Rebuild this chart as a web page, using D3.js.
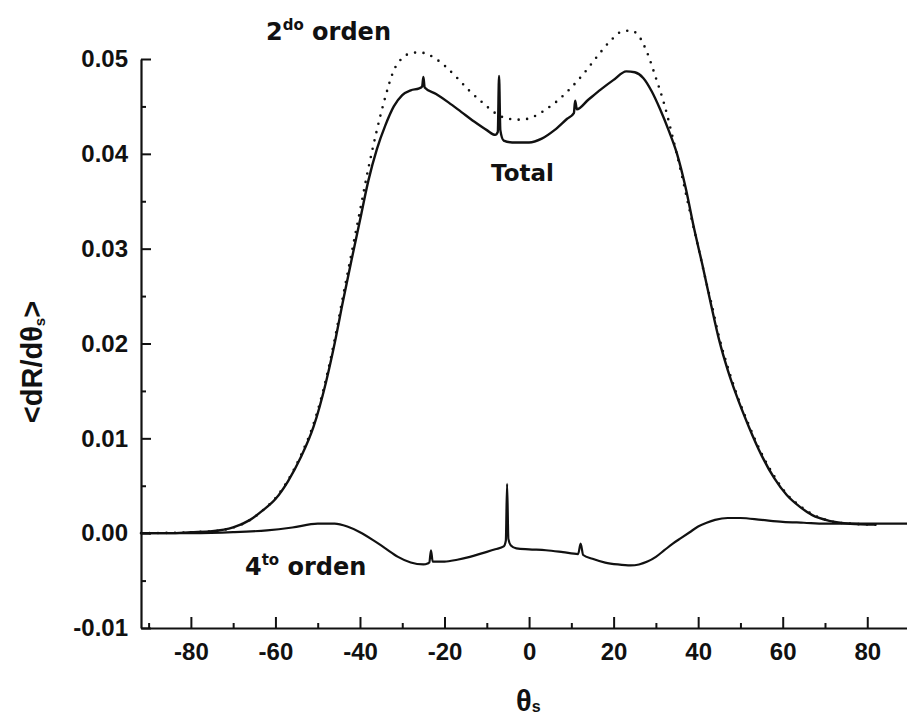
<!DOCTYPE html>
<html>
<head>
<meta charset="utf-8">
<script src="https://cdn.jsdelivr.net/npm/d3@7"></script>
<style>
  html, body { margin: 0; padding: 0; background: #fff; }
  svg { display: block; }
  .tick text { font-family: "Liberation Sans", Arial, sans-serif; font-weight: bold; font-size: 24px; fill: #111; }
  .lbl { font-family: "DejaVu Sans", sans-serif; font-weight: bold; fill: #111; }
</style>
</head>
<body>
<svg id="chart" width="907" height="724"></svg>
<script>
// Scattering angle grid points (degrees) and curves
const totalTheta = [-91.8,-85,-80,-75,-70,-66,-63,-60,-57,-54,-51,-48,-46,-44,-42,-40,-38,-36,-34,-32,-30,-28,-26,-25.3,-25,-24.7,-22,-19,-16,-13,-10,-8,-7.4,-7.1,-6.8,-6.0,-4,0,3,6,9,10.6,10.9,11.3,14,17,20,23,25,27,29,31,33,35,37,39,41,43,45,47,49,52,55,58,61,64,67,71,76,82];
const totalValues = [0,0,0.0001,0.0002,0.0006,0.0014,0.0024,0.0036,0.0055,0.0080,0.0112,0.0160,0.0200,0.0245,0.0288,0.0330,0.0372,0.0405,0.0430,0.0450,0.0462,0.0467,0.0469,0.0471,0.0481,0.0470,0.0463,0.0454,0.0444,0.0434,0.0425,0.0420,0.0423,0.0482,0.0425,0.0414,0.0412,0.0412,0.0416,0.0425,0.0437,0.0443,0.0456,0.0447,0.0457,0.0468,0.0478,0.0487,0.0486,0.0480,0.0466,0.0447,0.0425,0.0400,0.0365,0.0322,0.0283,0.0242,0.0203,0.0172,0.0146,0.0112,0.0082,0.0058,0.0040,0.0028,0.0019,0.0013,0.0010,0.0009];

const secondTheta = [-91.8,-80,-75,-70,-66,-63,-60,-57,-54,-51,-48,-46,-44,-42,-40,-38,-36,-34,-32,-30,-28,-26,-24,-22,-20,-17,-14,-11,-8,-5,-2,1,4,7,10,13,16,19,22,24,26,28,30,32,34,36,38,40,42,43,45,47,49,52,55,58,61,64,67,71,76,82];
const secondValues = [0,0.0001,0.0002,0.0006,0.0014,0.0024,0.0037,0.0056,0.0082,0.0115,0.0163,0.0204,0.0250,0.0295,0.0340,0.0385,0.0425,0.0460,0.0488,0.0501,0.0506,0.0507,0.0505,0.0500,0.0493,0.0480,0.0466,0.0454,0.0443,0.0437,0.0436,0.0439,0.0447,0.0457,0.0470,0.0485,0.0502,0.0518,0.0529,0.0530,0.0524,0.0506,0.0480,0.0452,0.0417,0.0380,0.0340,0.0302,0.0263,0.0245,0.0206,0.0175,0.0148,0.0114,0.0084,0.0060,0.0041,0.0029,0.0020,0.0013,0.0010,0.0009];

const fourthTheta = [-91.8,-80,-70,-62,-56,-50,-46,-43,-40,-37,-34,-31,-28,-25,-24,-23.6,-23.2,-22.8,-20,-17,-14,-11,-8,-6,-5.5,-5.2,-4.9,-4.3,-3,0,4,8,11.6,12.2,12.8,15,18,21,24,26,28,30,32,34,36,38,40,42,44,47,50,55,60,65,70,80,89.4];
const fourthValues = [0,0,0.0001,0.0003,0.0006,0.0010,0.0010,0.0007,0.0001,-0.0007,-0.0016,-0.0025,-0.0031,-0.0033,-0.0032,-0.0031,-0.0018,-0.0030,-0.0030,-0.0028,-0.0025,-0.0021,-0.0017,-0.0014,-0.0008,0.0052,-0.0006,-0.0013,-0.0016,-0.0017,-0.0018,-0.0020,-0.0022,-0.0011,-0.0023,-0.0027,-0.0031,-0.0033,-0.0034,-0.0033,-0.0030,-0.0025,-0.0018,-0.0011,-0.0005,0.0001,0.0007,0.0011,0.0014,0.0016,0.0016,0.0014,0.0012,0.0011,0.0010,0.0010,0.0010];

const xMajorTicks = [-80,-60,-40,-20,0,20,40,60,80];
const xMinorTicks = [-90,-70,-50,-30,-10,10,30,50,70];
const yMajorTicks = [-0.01,0.00,0.01,0.02,0.03,0.04,0.05];
const yMinorTicks = [-0.005,0.005,0.015,0.025,0.035,0.045];

const svg = d3.select("#chart");

const x = d3.scaleLinear().domain([-91.8, 89.4]).range([141, 907]);
const y = d3.scaleLinear().domain([-0.01, 0.05]).range([628, 59]);

// Plain hyphen for negative numbers
const fmtX = d => d3.format("d")(d).replace("\u2212", "-");
const fmtY = d => d3.format(".2f")(d).replace("\u2212", "-");

// Axes with inward-pointing ticks
svg.append("g").attr("transform", `translate(0,${y(-0.01)})`)
  .call(d3.axisBottom(x).tickValues(xMajorTicks).tickSize(-11).tickSizeOuter(0)
    .tickPadding(15).tickFormat(fmtX));
svg.append("g").attr("transform", `translate(0,${y(-0.01)})`)
  .call(d3.axisBottom(x).tickValues(xMinorTicks).tickSize(-5).tickSizeOuter(0).tickFormat(""))
  .select(".domain").remove();

svg.append("g").attr("transform", `translate(${x(-91.8)},0)`)
  .call(d3.axisLeft(y).tickValues(yMajorTicks).tickSize(-10).tickSizeOuter(0)
    .tickPadding(13).tickFormat(fmtY));
svg.append("g").attr("transform", `translate(${x(-91.8)},0)`)
  .call(d3.axisLeft(y).tickValues(yMinorTicks).tickSize(-5).tickSizeOuter(0).tickFormat(""))
  .select(".domain").remove();

svg.selectAll(".domain").attr("stroke", "#111").attr("stroke-width", 2.2);
svg.selectAll(".tick line").attr("stroke", "#111").attr("stroke-width", 2);

// Curves
const line = d3.line().x(d => x(d[0])).y(d => y(d[1])).curve(d3.curveMonotoneX);
const zip = (a, b) => a.map((t, i) => [t, b[i]]);

svg.append("path").datum(zip(secondTheta, secondValues))
  .attr("d", line).attr("fill", "none").attr("stroke", "#111")
  .attr("stroke-width", 2.6).attr("stroke-linecap", "round").attr("stroke-dasharray", "0 8.5");

svg.append("path").datum(zip(totalTheta, totalValues))
  .attr("d", line).attr("fill", "none").attr("stroke", "#111")
  .attr("stroke-width", 2.4).attr("stroke-linejoin", "round");

svg.append("path").datum(zip(fourthTheta, fourthValues))
  .attr("d", line).attr("fill", "none").attr("stroke", "#111")
  .attr("stroke-width", 2.2).attr("stroke-linejoin", "round");

// Curve labels
const t2 = svg.append("text").attr("class", "lbl").attr("x", 266).attr("y", 40).attr("font-size", 24);
t2.append("tspan").text("2");
t2.append("tspan").attr("font-size", 15).attr("dy", -10).text("do");
t2.append("tspan").attr("dy", 10).text(" orden");

svg.append("text").attr("class", "lbl").attr("x", 491).attr("y", 181).attr("font-size", 23).text("Total");

const t4 = svg.append("text").attr("class", "lbl").attr("x", 245).attr("y", 575).attr("font-size", 24);
t4.append("tspan").text("4");
t4.append("tspan").attr("font-size", 15).attr("dy", -10).text("to");
t4.append("tspan").attr("dy", 10).text(" orden");

// Axis titles
const xt = svg.append("text").attr("x", 516).attr("y", 711)
  .attr("font-family", "Liberation Sans, Arial, sans-serif").attr("font-weight", "bold").attr("font-size", 29).attr("fill", "#111");
xt.append("tspan").text("θ");
xt.append("tspan").attr("font-size", 16).attr("dy", 1).text("s");

const yt = svg.append("text").attr("transform", "translate(42,362) rotate(-90)").attr("text-anchor", "middle")
  .attr("font-family", "Liberation Sans, Arial, sans-serif").attr("font-weight", "bold").attr("font-size", 29).attr("fill", "#111");
yt.append("tspan").text("<dR/dθ");
yt.append("tspan").attr("font-size", 15).attr("dy", 3).text("s");
yt.append("tspan").attr("dy", -3).text(">");
</script>
</body>
</html>
